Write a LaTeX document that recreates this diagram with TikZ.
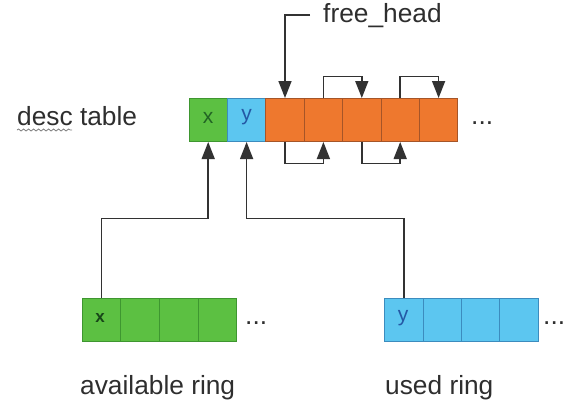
\documentclass[tikz,border=0pt]{standalone}
\usepackage{fontspec}
\setmainfont{Liberation Sans}
\usetikzlibrary{arrows.meta,decorations.pathmorphing}
\definecolor{gfill}{RGB}{92,192,66}
\definecolor{gline}{RGB}{62,150,48}
\definecolor{bfill}{RGB}{92,198,240}
\definecolor{bline}{RGB}{60,140,190}
\definecolor{ofill}{RGB}{238,120,46}
\definecolor{oline}{RGB}{165,85,40}
\definecolor{conncol}{RGB}{50,50,50}
\definecolor{xtext}{RGB}{34,100,36}
\definecolor{ytext}{RGB}{36,88,165}
\tikzset{
  cellbase/.style={draw, line width=1pt, minimum height=43pt, inner sep=0pt, anchor=center},
  gcell/.style={cellbase, fill=gfill, draw=gline},
  bcell/.style={cellbase, fill=bfill, draw=bline},
  ocell/.style={cellbase, fill=ofill, draw=oline},
  conn/.style={draw=conncol, line width=1.5pt, -{Triangle[length=17pt,width=13pt]}},
  lbl/.style={inner sep=0pt, anchor=base west, font=\fontsize{26.3}{31}\selectfont, text=black!82},
  celltxt/.style={font=\fontsize{21}{25}\selectfont}
}
\begin{document}
\begin{tikzpicture}[x=1pt,y=-1pt]
\useasboundingbox (0,0) rectangle (588,400);
% desc table
\node[gcell, minimum width=38.4pt] (tx) at (208.2,120) {};
\node[bcell, minimum width=38.4pt] (ty) at (246.6,120) {};
\node[ocell, minimum width=38.4pt] (o1) at (285.0,120) {};
\node[ocell, minimum width=38.4pt] (o2) at (323.4,120) {};
\node[ocell, minimum width=38.4pt] (o3) at (361.8,120) {};
\node[ocell, minimum width=38.4pt] (o4) at (400.2,120) {};
\node[ocell, minimum width=38.4pt] (o5) at (438.6,120) {};
\node[celltxt, text=xtext] (txl) at (208.2,118) {x};
\node[celltxt, text=ytext] (tyl) at (246.6,117) {y};
\node[lbl] (tdots) at (471,124) {...};
\node[lbl] (desc) at (17,125) {desc table};
\draw[decorate, decoration={snake, amplitude=1pt, segment length=5pt}, gray, line width=0.8pt] (17,130) -- (72,130);
% free_head
\node[lbl] (fh) at (323,22) {free\_head};
\coordinate (fhs) at (310,15);
\draw[conn] (fhs) -| (o1.north);
% free list loops
\draw[conn] (o2.north) -- ++(0,-21.5) -| (o3.north);
\draw[conn] (o4.north) -- ++(0,-21.5) -| (o5.north);
\draw[conn] (o1.south) -- ++(0,21.5) -| (o2.south);
\draw[conn] (o3.south) -- ++(0,21.5) -| (o4.south);
% available ring
\node[gcell, minimum width=38.75pt] (a1) at (101.4,319.5) {};
\node[gcell, minimum width=38.75pt] (a2) at (140.1,319.5) {};
\node[gcell, minimum width=38.75pt] (a3) at (178.9,319.5) {};
\node[gcell, minimum width=38.75pt] (a4) at (217.6,319.5) {};
\node[font=\fontsize{17}{20}\selectfont\bfseries, text=xtext!70!black] (a1l) at (100,318) {x};
\node[lbl] (adots) at (245,324) {...};
\node[lbl] (alab) at (80,394) {available ring};
% used ring
\node[bcell, minimum width=38.25pt] (u1) at (404.1,319.5) {};
\node[bcell, minimum width=38.25pt] (u2) at (442.4,319.5) {};
\node[bcell, minimum width=38.25pt] (u3) at (480.6,319.5) {};
\node[bcell, minimum width=38.25pt] (u4) at (518.9,319.5) {};
\node[celltxt, text=ytext] (u1l) at (403,318) {y};
\node[lbl] (udots) at (543,324) {...};
\node[lbl] (ulab) at (385,394) {used ring};
% ring to table connectors
\draw[conn] (a1.north) -- ++(0,-79) -| (tx.south);
\draw[conn] (u1.north) -- ++(0,-79) -| (ty.south);
\end{tikzpicture}
\end{document}
